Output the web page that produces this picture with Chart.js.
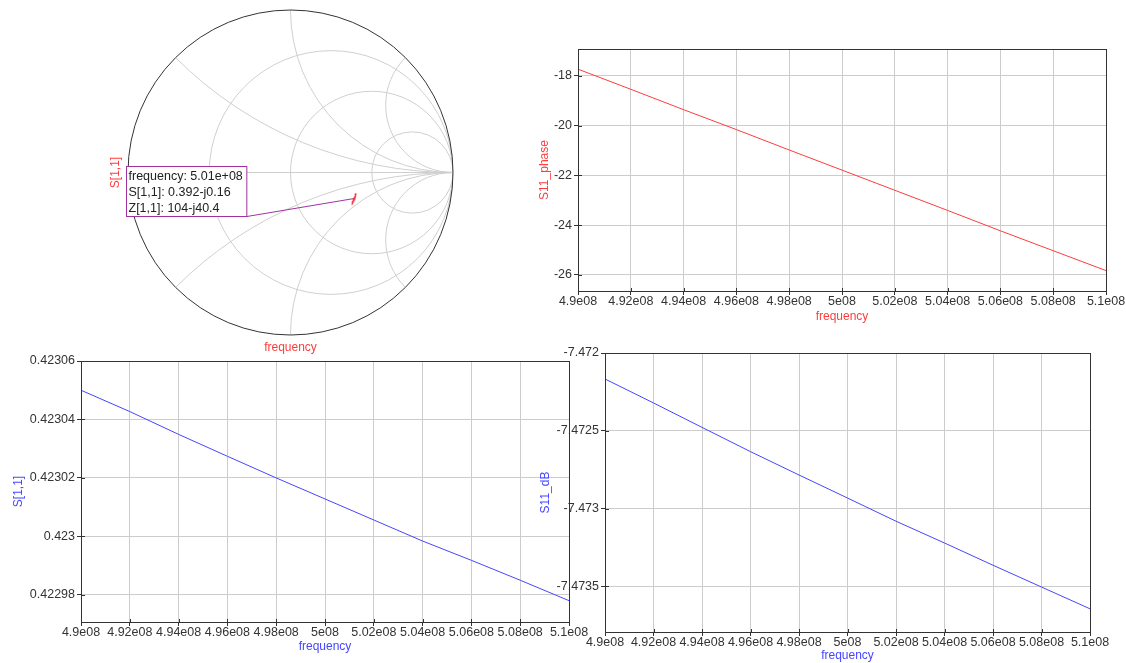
<!DOCTYPE html>
<html>
<head>
<meta charset="utf-8">
<script src="https://cdn.jsdelivr.net/npm/chart.js@4/dist/chart.umd.min.js"></script>
<style>
  body { margin: 0; background: #fff; width: 1126px; height: 663px; overflow: hidden; position: relative; }
  canvas { position: absolute; }
</style>
</head>
<body>
<canvas id="smith" width="380" height="360" style="left:100px;top:0px"></canvas>
<canvas id="phase" width="606" height="330" style="left:520px;top:0px"></canvas>
<canvas id="mag" width="600" height="323" style="left:0px;top:340px"></canvas>
<canvas id="db" width="596" height="323" style="left:530px;top:340px"></canvas>
<script>
// sweep points (Hz)
var freqs = [4.90e8, 4.92e8, 4.94e8, 4.96e8, 4.98e8, 5.00e8, 5.02e8, 5.04e8, 5.06e8, 5.08e8, 5.10e8];

// S11
var phaseDeg = [-17.73, -18.54, -19.36, -20.16, -20.98, -21.79, -22.60, -23.41, -24.23, -25.03, -25.83];
var magS11 = [0.423050, 0.4230427, 0.4230349, 0.4230274, 0.423020, 0.4230128, 0.4230056, 0.4229984, 0.4229918, 0.422985, 0.422978];
var dbS11 = [-7.472167, -7.472321, -7.472478, -7.472634, -7.472784, -7.472932, -7.473081, -7.473221, -7.473364, -7.473504, -7.473644];

// axis ticks and ranges
var freqTicks = [4.90e8, 4.92e8, 4.94e8, 4.96e8, 4.98e8, 5.00e8, 5.02e8, 5.04e8, 5.06e8, 5.08e8, 5.10e8];
var phaseTicks = [-26, -24, -22, -20, -18];
var magTicks = [0.42298, 0.423, 0.42302, 0.42304, 0.42306];
var dbTicks = [-7.4735, -7.473, -7.4725, -7.472];
var phaseRange = [-26.65, -16.92];
var magRange = [0.4229707, 0.42306];
var dbRange = [-7.473793, -7.472];

// smith chart grid + marker
var resistanceCircles = [1/3, 1, 3];
var reactanceArcs = [0.4142, 1, 2.4142];
var markerS = [0.392, -0.16];
var markerText = ['frequency: 5.01e+08', 'S[1,1]: 0.392-j0.16', 'Z[1,1]: 104-j40.4'];

var RED = 'rgb(255,60,60)';
var BLUE = 'rgb(70,70,255)';
var TICK_TXT = '#333';

Chart.defaults.font.family = "'Liberation Sans', Arial, sans-serif";
Chart.defaults.font.size = 12;

function sciLabel(v) {
  var s = parseFloat(v.toPrecision(6)).toExponential().split('e');
  var n = parseInt(s[1], 10);
  return s[0] + 'e' + (n < 10 ? '0' : '') + n;
}
function plainLabel(v) {
  return String(parseFloat(v.toPrecision(6)));
}

function fixSize(size) {
  return function(scale) {
    if (scale.isHorizontal()) scale.height = size; else scale.width = size;
    scale.paddingLeft = 0; scale.paddingRight = 0;
    scale.paddingTop = 0; scale.paddingBottom = 0;
  };
}
function setTicks(list) {
  return function(scale) {
    scale.ticks = list.map(v => ({value: v}));
  };
}

// box around the plot + the little tick marks poking inside
var frame = {
  id: 'frame',
  afterDraw(chart) {
    var a = chart.chartArea, ctx = chart.ctx;
    var xs = chart.scales.x, ys = chart.scales.y;
    ctx.save();
    ctx.strokeStyle = '#333';
    ctx.lineWidth = 1;
    ctx.strokeRect(Math.round(a.left) + 0.5, Math.round(a.top) + 0.5,
      Math.round(a.right - a.left), Math.round(a.bottom - a.top));
    ctx.beginPath();
    xs.ticks.forEach(t => {
      var x = Math.round(xs.getPixelForValue(t.value)) + 0.5;
      ctx.moveTo(x, a.bottom);
      ctx.lineTo(x, a.bottom - 3);
    });
    ys.ticks.forEach(t => {
      var y = Math.round(ys.getPixelForValue(t.value)) + 0.5;
      ctx.moveTo(a.left, y);
      ctx.lineTo(a.left + 4, y);
    });
    ctx.stroke();
    ctx.restore();
  }
};

function lineChart(id, values, range, yTicks, color, yTitle, o) {
  return new Chart(document.getElementById(id), {
    type: 'line',
    data: {
      datasets: [{
        data: freqs.map((f, i) => ({x: f, y: values[i]})),
        borderColor: color,
        borderWidth: 1,
        pointRadius: 0,
        tension: 0
      }]
    },
    options: {
      responsive: false,
      animation: false,
      devicePixelRatio: 1,
      layout: { padding: { top: o.padTop, right: o.padRight, left: 0, bottom: 0 } },
      plugins: { legend: { display: false }, tooltip: { enabled: false } },
      scales: {
        x: {
          type: 'linear',
          min: freqs[0],
          max: freqs[freqs.length - 1],
          afterBuildTicks: setTicks(freqTicks),
          afterFit: fixSize(o.xh),
          grid: { color: '#cccccc', tickColor: '#333', tickLength: 4 },
          border: { color: '#333' },
          ticks: {
            autoSkip: false, maxRotation: 0, minRotation: 0, padding: 0,
            color: TICK_TXT, font: { size: 12.5, lineHeight: 1 },
            callback: v => sciLabel(v)
          },
          title: { display: true, text: 'frequency', color: color,
            font: { size: 12 }, padding: { top: 0, bottom: o.xTitlePad } }
        },
        y: {
          type: 'linear',
          min: range[0],
          max: range[1],
          afterBuildTicks: setTicks(yTicks),
          afterFit: fixSize(o.yw),
          grid: { color: '#cccccc', tickColor: '#333', tickLength: 4 },
          border: { color: '#333' },
          ticks: {
            padding: 2, color: TICK_TXT, font: { size: 12.5, lineHeight: 1 },
            callback: v => plainLabel(v)
          },
          title: { display: true, text: yTitle, color: color,
            font: { size: 12 }, padding: { top: o.yTitlePad, bottom: 0 } }
        }
      }
    },
    plugins: [frame]
  });
}

lineChart('phase', phaseDeg, phaseRange, phaseTicks, RED, 'S11_phase',
  { padTop: 49, padRight: 20, yw: 58, xh: 39, xTitlePad: 6, yTitlePad: 17 });
lineChart('mag', magS11, magRange, magTicks, BLUE, 'S[1,1]',
  { padTop: 21, padRight: 31, yw: 81, xh: 41, xTitlePad: 9, yTitlePad: 11 });
lineChart('db', dbS11, dbRange, dbTicks, BLUE, 'S11_dB',
  { padTop: 13, padRight: 36, yw: 75, xh: 31, xTitlePad: 0, yTitlePad: 8.5 });

// Smith chart
var smithGrid = {
  id: 'smithGrid',
  beforeDatasetsDraw(chart) {
    var xs = chart.scales.x, ys = chart.scales.y, ctx = chart.ctx;
    var px = v => xs.getPixelForValue(v), py = v => ys.getPixelForValue(v);
    var cx = px(0), cy = py(0), R = px(1) - cx;
    ctx.save();
    ctx.beginPath();
    ctx.arc(cx, cy, R, 0, 2 * Math.PI);
    ctx.clip();
    ctx.strokeStyle = '#cfcfcf';
    ctx.lineWidth = 1;
    resistanceCircles.forEach(r => {
      ctx.beginPath();
      ctx.arc(px(r / (1 + r)), cy, R / (1 + r), 0, 2 * Math.PI);
      ctx.stroke();
    });
    reactanceArcs.forEach(x => {
      [x, -x].forEach(v => {
        ctx.beginPath();
        ctx.arc(px(1), py(1 / v), R / Math.abs(v), 0, 2 * Math.PI);
        ctx.stroke();
      });
    });
    ctx.beginPath();
    ctx.moveTo(px(-1), cy);
    ctx.lineTo(px(1), cy);
    ctx.stroke();
    ctx.restore();
    ctx.save();
    ctx.strokeStyle = '#333';
    ctx.beginPath();
    ctx.arc(cx, cy, R, 0, 2 * Math.PI);
    ctx.stroke();
    ctx.restore();
  }
};

var smithMarker = {
  id: 'smithMarker',
  afterDatasetsDraw(chart) {
    var xs = chart.scales.x, ys = chart.scales.y, ctx = chart.ctx;
    var p = { x: xs.getPixelForValue(markerS[0]), y: ys.getPixelForValue(markerS[1]) };
    var bx = Math.round(xs.getPixelForValue(-1.015)) + 0.5;
    var by = Math.round(ys.getPixelForValue(0.042)) + 0.5;
    ctx.save();
    ctx.font = "12.5px 'Liberation Sans', Arial, sans-serif";
    var w = Math.max.apply(null, markerText.map(t => ctx.measureText(t).width)) + 6;
    var h = 50;
    ctx.strokeStyle = 'rgb(160,50,160)';
    ctx.lineWidth = 1;
    ctx.beginPath();
    ctx.moveTo(bx + w, by + h);
    ctx.lineTo(p.x, p.y);
    ctx.stroke();
    ctx.fillStyle = '#fff';
    ctx.fillRect(bx, by, w, h);
    ctx.strokeRect(bx, by, w, h);
    ctx.fillStyle = '#222';
    ctx.textBaseline = 'middle';
    markerText.forEach((t, i) => ctx.fillText(t, bx + 2, by + 10 + i * 16));
    ctx.restore();
  }
};

new Chart(document.getElementById('smith'), {
  type: 'scatter',
  data: {
    datasets: [{
      data: freqs.map((f, i) => ({
        x: magS11[i] * Math.cos(phaseDeg[i] * Math.PI / 180),
        y: magS11[i] * Math.sin(phaseDeg[i] * Math.PI / 180)
      })),
      showLine: true,
      borderColor: RED,
      borderWidth: 1.5,
      pointRadius: 0
    }]
  },
  options: {
    responsive: false,
    animation: false,
    devicePixelRatio: 1,
    layout: { padding: { top: 10, right: 27, left: 0, bottom: 0 } },
    plugins: { legend: { display: false }, tooltip: { enabled: false } },
    scales: {
      x: {
        type: 'linear', min: -1, max: 1,
        afterFit: fixSize(25),
        grid: { display: false }, border: { display: false },
        ticks: { display: false },
        title: { display: true, text: 'frequency', color: RED, padding: { top: 0, bottom: 5 } }
      },
      y: {
        type: 'linear', min: -1, max: 1,
        afterFit: fixSize(28),
        grid: { display: false }, border: { display: false },
        ticks: { display: false },
        title: { display: true, text: 'S[1,1]', color: RED, padding: { top: 8, bottom: 0 } }
      }
    }
  },
  plugins: [smithGrid, smithMarker]
});
</script>
</body>
</html>
